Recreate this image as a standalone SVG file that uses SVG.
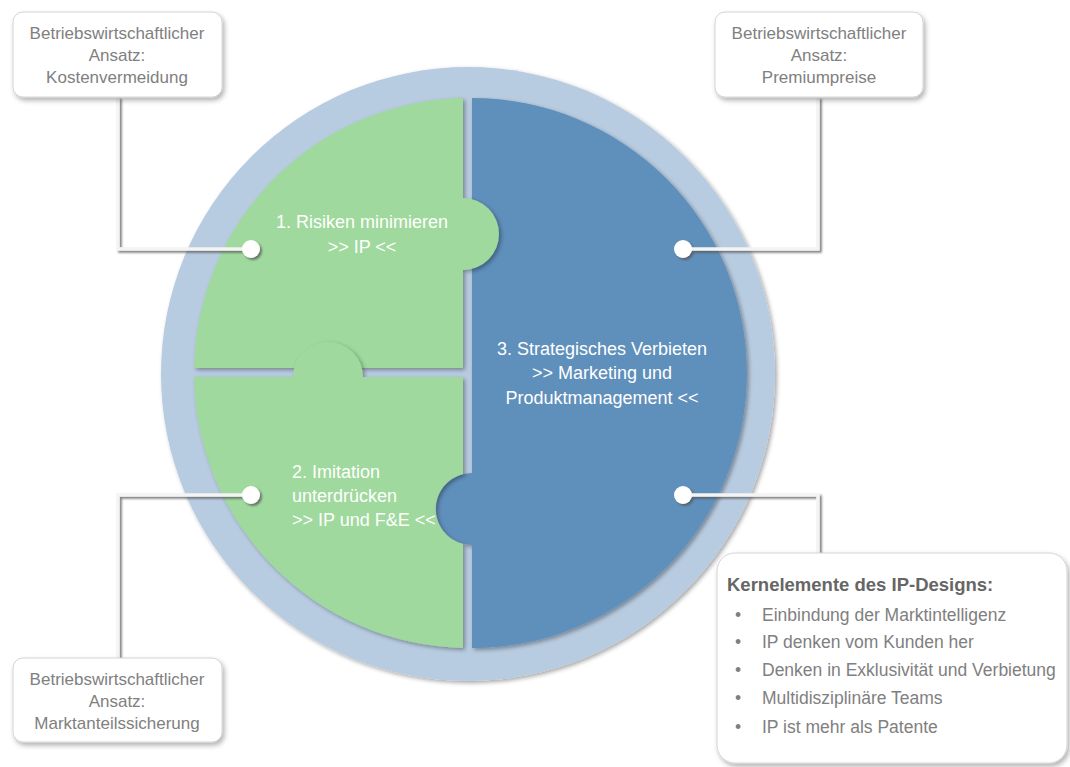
<svg xmlns="http://www.w3.org/2000/svg" width="1070" height="767" viewBox="0 0 1070 767">
<defs>
<filter id="sh" x="-10%" y="-10%" width="130%" height="130%"><feDropShadow dx="2" dy="2" stdDeviation="2" flood-color="#000" flood-opacity="0.35"/></filter>
<filter id="shs" x="-20%" y="-20%" width="150%" height="150%"><feDropShadow dx="2" dy="2" stdDeviation="1" flood-color="#555" flood-opacity="0.75"/></filter>
<filter id="shb" x="-10%" y="-10%" width="130%" height="130%"><feDropShadow dx="2" dy="3" stdDeviation="2.5" flood-color="#000" flood-opacity="0.3"/></filter>
<style>
.lbl{font-family:"Liberation Sans",Arial,sans-serif;font-size:18px;fill:#ffffff}
.bx{font-family:"Liberation Sans",Arial,sans-serif;font-size:17px;fill:#808080;text-anchor:middle}
.box{fill:#ffffff;stroke:#d4d4d4;stroke-width:1}
.con{fill:none;stroke:#f4f4f4;stroke-width:3.5}
.dot{fill:#ffffff}
.ttl{font-family:"Liberation Sans",Arial,sans-serif;font-size:18.5px;font-weight:bold;fill:#666666}
.itm{font-family:"Liberation Sans",Arial,sans-serif;font-size:17.5px;fill:#808080}
.green{fill:#9fd99d}
.blue{fill:#5f8fbb}
</style>
</defs>
<rect width="1070" height="767" fill="#ffffff"/>
<g id="ring"><circle cx="468" cy="374" r="307" fill="#b8cce1" filter="url(#sh)"/></g>
<g id="piece3">
<path class="blue" filter="url(#sh)" d="M472,98 A275,275 0 0 1 472,648 L472,545 A36,36 0 0 1 472,473 Z"/>
<text class="lbl" text-anchor="middle"><tspan x="602" y="355">3. Strategisches Verbieten</tspan><tspan x="602" y="379">&gt;&gt; Marketing und</tspan><tspan x="602" y="404">Produktmanagement &lt;&lt;</tspan></text>
</g>
<g id="piece1">
<path class="green" filter="url(#sh)" d="M463,98 L463,198 A36,36 0 0 1 463,270 L463,368 L194,368 A275,275 0 0 1 463,98 Z"/>
<text class="lbl" text-anchor="middle"><tspan x="362" y="228">1. Risiken minimieren</tspan><tspan x="362" y="253">&gt;&gt; IP &lt;&lt;</tspan></text>
</g>
<g id="piece2">
<path class="green" filter="url(#sh)" d="M194,377 L293,377 A35,35 0 0 1 363,377 L463,377 L463,474 A36,36 0 0 0 463,544 L463,648 A275,275 0 0 1 194,377 Z"/>
<text class="lbl"><tspan x="292" y="478">2. Imitation</tspan><tspan x="292" y="502">unterdrücken</tspan><tspan x="292" y="526">&gt;&gt; IP und F&amp;E &lt;&lt;</tspan></text>
</g>
<g id="connectors" filter="url(#shs)">
<path class="con" d="M251,249 H118 V97"/>
<path class="con" d="M683,249 H818 V97"/>
<path class="con" d="M251,495 H118 V658"/>
<path class="con" d="M683,495 H818 V553"/>
<circle class="dot" cx="251" cy="249" r="9"/>
<circle class="dot" cx="683" cy="249" r="9"/>
<circle class="dot" cx="251" cy="495" r="9"/>
<circle class="dot" cx="683" cy="495" r="9"/>
</g>
<g id="box-kosten">
<rect class="box" x="13" y="12" width="209" height="85" rx="10" filter="url(#shb)"/>
<text class="bx"><tspan x="117" y="39">Betriebswirtschaftlicher</tspan><tspan x="117" y="61">Ansatz:</tspan><tspan x="117" y="83">Kostenvermeidung</tspan></text>
</g>
<g id="box-premium">
<rect class="box" x="715" y="12" width="208" height="85" rx="10" filter="url(#shb)"/>
<text class="bx"><tspan x="819" y="39">Betriebswirtschaftlicher</tspan><tspan x="819" y="61">Ansatz:</tspan><tspan x="819" y="83">Premiumpreise</tspan></text>
</g>
<g id="box-markt">
<rect class="box" x="13" y="658" width="209" height="84" rx="10" filter="url(#shb)"/>
<text class="bx"><tspan x="117" y="685">Betriebswirtschaftlicher</tspan><tspan x="117" y="707">Ansatz:</tspan><tspan x="117" y="729">Marktanteilssicherung</tspan></text>
</g>
<g id="box-kern">
<rect class="box" x="717" y="553" width="350" height="210" rx="18" filter="url(#shb)"/>
<text class="ttl" x="727" y="591">Kernelemente des IP-Designs:</text>
<g class="itm">
<text x="735" y="621">•</text><text x="762" y="621">Einbindung der Marktintelligenz</text>
<text x="735" y="648">•</text><text x="762" y="648">IP denken vom Kunden her</text>
<text x="735" y="676">•</text><text x="762" y="676">Denken in Exklusivität und Verbietung</text>
<text x="735" y="704">•</text><text x="762" y="704">Multidisziplinäre Teams</text>
<text x="735" y="733">•</text><text x="762" y="733">IP ist mehr als Patente</text>
</g>
</g>
</svg>
